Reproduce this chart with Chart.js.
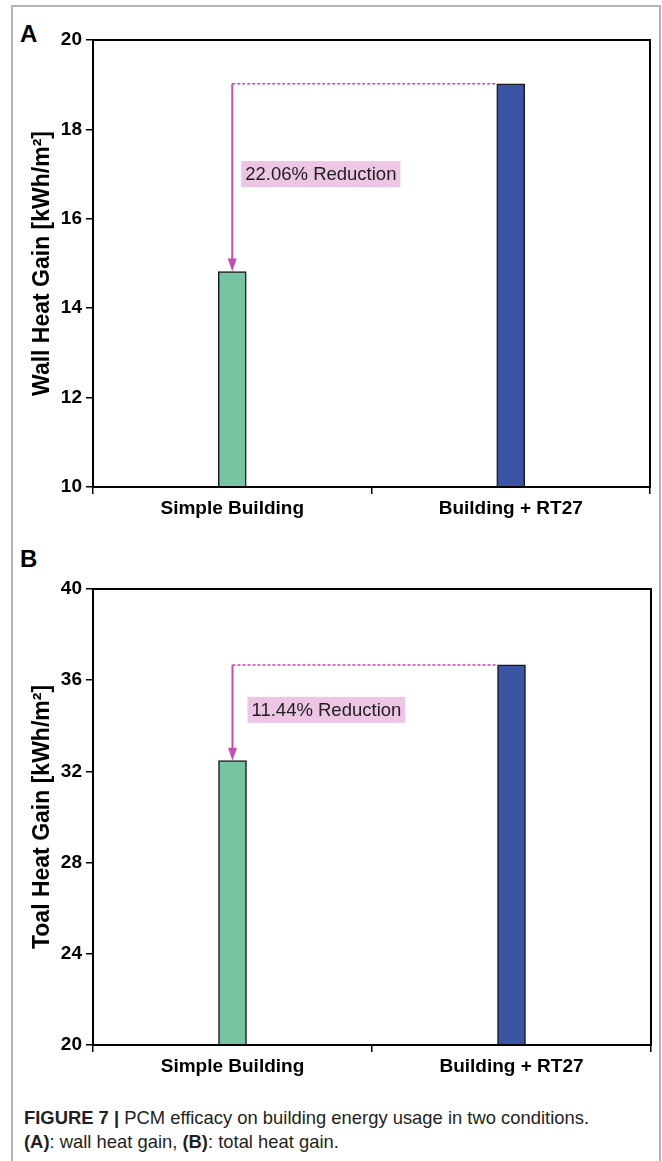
<!DOCTYPE html>
<html>
<head>
<meta charset="utf-8">
<script src="https://cdn.jsdelivr.net/npm/chart.js@4.4.1/dist/chart.umd.min.js"></script>
<style>
  body { margin: 0; background: #fff; width: 662px; height: 1161px; position: relative; overflow: hidden; }
  .frame { position: absolute; left: 11px; top: 5px; width: 646px; height: 1170px; border: 2px solid #b4b4b4; }
  .panel { position: absolute; left: 0; }
  .letter { position: absolute; left: 20px; font: bold 24px "Liberation Sans", Arial, sans-serif; color: #000; }
  .caption { position: absolute; left: 24px; top: 1106px; font: 18.4px "Liberation Sans Narrow", "Arial Narrow", "Liberation Sans", sans-serif; color: #231f20; line-height: 24px; }
</style>
</head>
<body>
<div class="frame"></div>
<div class="letter" style="top:20px">A</div>
<div class="letter" style="top:545px">B</div>
<canvas id="wall" class="panel" style="top:0" width="662" height="530"></canvas>
<canvas id="total" class="panel" style="top:530px" width="662" height="560"></canvas>
<div class="caption"><b>FIGURE 7 |</b> PCM efficacy on building energy usage in two conditions.<br><b>(A)</b>: wall heat gain, <b>(B)</b>: total heat gain.</div>
<script>
const categories = ['Simple Building', 'Building + RT27'];
const wallHeatGain = [14.82, 19.02];
const totalHeatGain = [32.47, 36.67];
const wallTicks = [10, 12, 14, 16, 18, 20];
const totalTicks = [20, 24, 28, 32, 36, 40];
const reductions = ['22.06% Reduction', '11.44% Reduction'];

const barColors = ['#77c4a2', '#3b55a4'];
const boldFont = '"Liberation Sans", Arial, sans-serif';

// reduction arrow, dotted guide, label box and the closed plot frame
const annotate = {
  id: 'annotate',
  afterDatasetsDraw(chart, args, opts) {
    const { ctx, chartArea: a, scales: { y } } = chart;
    const bars = chart.getDatasetMeta(0).data;
    const vals = chart.data.datasets[0].data;
    const low = bars[0], high = bars[1];
    const yTop = y.getPixelForValue(vals[1]);
    const yLow = y.getPixelForValue(vals[0]);
    const xa = low.x;

    ctx.save();
    ctx.strokeStyle = '#d23cbf';
    ctx.lineWidth = 1.5;
    ctx.setLineDash([3, 2]);
    ctx.beginPath();
    ctx.moveTo(xa, yTop);
    ctx.lineTo(high.x - high.width / 2, yTop);
    ctx.stroke();

    ctx.setLineDash([]);
    ctx.strokeStyle = '#c24fb3';
    ctx.lineWidth = 2;
    ctx.beginPath();
    ctx.moveTo(xa, yTop);
    ctx.lineTo(xa, yLow - 10);
    ctx.stroke();
    ctx.fillStyle = '#c24fb3';
    ctx.beginPath();
    ctx.moveTo(xa - 4.5, yLow - 13);
    ctx.lineTo(xa + 4.5, yLow - 13);
    ctx.lineTo(xa, yLow);
    ctx.closePath();
    ctx.fill();

    ctx.font = '18.5px "Liberation Sans", Arial, sans-serif';
    const w = ctx.measureText(opts.text).width;
    const ly = y.getPixelForValue(opts.at);
    const lx = xa + opts.dx;
    ctx.fillStyle = '#ecc6e4';
    ctx.fillRect(lx, ly - 13, w + 8, 26);
    ctx.fillStyle = '#1e1e1e';
    ctx.textBaseline = 'middle';
    ctx.fillText(opts.text, lx + 4, ly + 1);

    ctx.strokeStyle = '#000';
    ctx.lineWidth = 2;
    ctx.strokeRect(a.left, a.top, a.right - a.left, a.bottom - a.top);
    ctx.restore();
  }
};

function buildChart(id, values, ticks, title, pad, axisHeight, label) {
  return new Chart(document.getElementById(id), {
    type: 'bar',
    data: {
      labels: categories,
      datasets: [{
        data: values,
        backgroundColor: barColors,
        borderColor: '#1a1a1a',
        borderWidth: 1.5,
        borderSkipped: false,
        barThickness: 28
      }]
    },
    options: {
      responsive: false,
      animation: false,
      layout: { padding: pad },
      plugins: {
        legend: { display: false },
        tooltip: { enabled: false },
        annotate: label
      },
      scales: {
        x: {
          border: { color: '#000', width: 2 },
          grid: { drawOnChartArea: false, color: '#000', lineWidth: 1.5, tickLength: 7 },
          ticks: { color: '#000', padding: 3, font: { family: boldFont, size: 19, weight: 'bold' } },
          afterFit: s => { s.height = axisHeight; }
        },
        y: {
          min: ticks[0],
          max: ticks[ticks.length - 1],
          afterBuildTicks: s => { s.ticks = ticks.map(v => ({ value: v })); },
          border: { color: '#000', width: 2 },
          grid: { drawOnChartArea: false, color: '#000', lineWidth: 1.5, tickLength: 7 },
          ticks: { color: '#000', padding: 4, font: { family: boldFont, size: 19, weight: 'bold' } },
          title: {
            display: true,
            text: title,
            color: '#000',
            padding: { top: 29, bottom: 0 },
            font: { family: boldFont, size: 23, weight: 'bold' }
          },
          afterFit: s => { s.width = 93; }
        }
      }
    },
    plugins: [annotate]
  });
}

buildChart('wall', wallHeatGain, wallTicks, 'Wall Heat Gain [kWh/m²]',
  { top: 40, right: 12, left: 0, bottom: 0 }, 43,
  { text: reductions[0], at: 17.0, dx: 9 });

buildChart('total', totalHeatGain, totalTicks, 'Toal Heat Gain [kWh/m²]',
  { top: 59, right: 11, left: 0, bottom: 0 }, 45,
  { text: reductions[1], at: 34.7, dx: 15 });
</script>
</body>
</html>
